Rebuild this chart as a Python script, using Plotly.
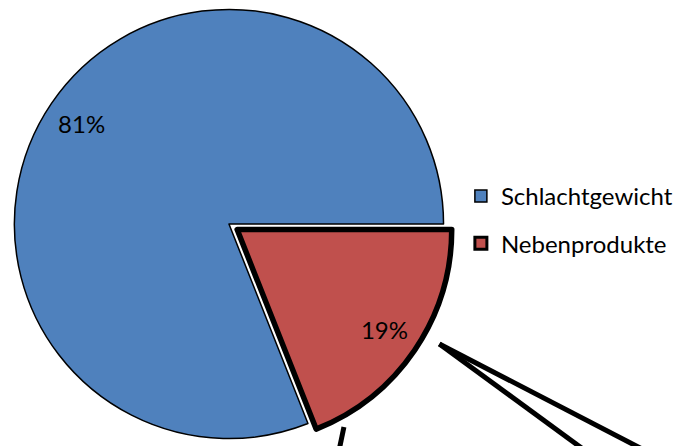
import math
import plotly.graph_objects as go

# ---- data ----
labels = ["Nebenprodukte", "Schlachtgewicht"]
values = [19, 81]
colors = ["#C0504D", "#4F81BD"]
legend_order = ["Schlachtgewicht", "Nebenprodukte"]

# ---- geometry / style ----
W, H = 678, 446
R = 216.5
cxA, cyA = 231.0, 224.0
pull_px = 10.0
FONT = "Lato"
CLEAR = "rgba(0,0,0,0)"

total = sum(values)
share0 = values[0] / total
mid = math.radians(90 + 180 * share0)          # bisector of first slice, clockwise from 12 o'clock
cxB = cxA + pull_px * math.sin(mid)
cyB = cyA - pull_px * math.cos(mid)


def dom(cx, cy, r=R):
    return dict(x=[max(0, (cx - r) / W), min(1, (cx + r) / W)],
                y=[max(0, 1 - (cy + r) / H), min(1, 1 - (cy - r) / H)])


common = dict(labels=labels, values=values, sort=False, direction="clockwise",
              rotation=90, hoverinfo="skip")

fig = go.Figure()

# legend carriers (tiny, hidden under the main pie)
color_of = dict(zip(labels, colors))
value_of = dict(zip(labels, values))
lw_of = {"Schlachtgewicht": 1.5, "Nebenprodukte": 3}
for i, lab in enumerate(legend_order):
    fig.add_trace(go.Pie(
        labels=[lab], values=[value_of[lab]], sort=False,
        marker=dict(colors=[color_of[lab]], line=dict(color="black", width=lw_of[lab])),
        textinfo="none", hoverinfo="skip", showlegend=True,
        legendgroup="g%d" % i,
        domain=dict(x=[0.2, 0.2004], y=[0.5, 0.5006]),
    ))

# main (blue) slice
fig.add_trace(go.Pie(
    **common, domain=dom(cxA, cyA), showlegend=False, textinfo="none",
    marker=dict(colors=[CLEAR, colors[1]], line=dict(color="black", width=[0, 1.5])),
))
# exploded (red) slice
fig.add_trace(go.Pie(
    **common, domain=dom(cxB, cyB), showlegend=False, textinfo="none",
    marker=dict(colors=[colors[0], CLEAR], line=dict(color="black", width=[5.5, 0])),
))
# percentage labels (ring trace only used to place the label towards the rim)
for (cx, cy), tmpl, hole in [((cxA, cyA), ["", "%{percent:.0%}"], 0.66),
                             ((cxB, cyB), ["%{percent:.0%}", ""], 0.66)]:
    fig.add_trace(go.Pie(
        **common, domain=dom(cx, cy), showlegend=False, hole=hole,
        marker=dict(colors=[CLEAR, CLEAR], line=dict(width=0)),
        texttemplate=tmpl, textposition="inside",
        insidetextorientation="horizontal",
        insidetextfont=dict(family=FONT, size=24, color="black"),
    ))

# connector lines (pie-of-pie leader lines, continuing off the canvas)
def px(x, y):
    return x / W, 1 - y / H

lines = [((443.3, 344.0), (642.0, 446.0)),
         ((443.3, 344.0), (584.0, 446.0)),
         ((347.0, 427.0), (343.0, 446.0))]
shapes = []
for (x0, y0), (x1, y1) in lines:
    ext = 15.0
    dxl, dyl = x1 - x0, y1 - y0
    x2, y2 = x1 + dxl * ext / dyl, y1 + ext
    a0, b0 = px(x0, y0)
    a1, b1 = px(x2, y2)
    shapes.append(dict(type="line", xref="paper", yref="paper", x0=a0, y0=b0, x1=a1, y1=b1,
                       line=dict(color="black", width=5)))

fig.update_layout(
    width=W, height=H,
    margin=dict(l=0, r=0, t=0, b=0),
    paper_bgcolor="white", plot_bgcolor="white",
    font=dict(family=FONT, size=24, color="black"),
    legend=dict(x=465 / W, y=1 - 174 / H, xanchor="left", yanchor="top",
                font=dict(family=FONT, size=24, color="black"),
                traceorder="grouped", tracegroupgap=13, bgcolor=CLEAR),
    shapes=shapes,
)

fig.write_html("out.html", config={"displayModeBar": False},
               post_script="document.body.style.margin='0';document.body.style.overflow='hidden';")
